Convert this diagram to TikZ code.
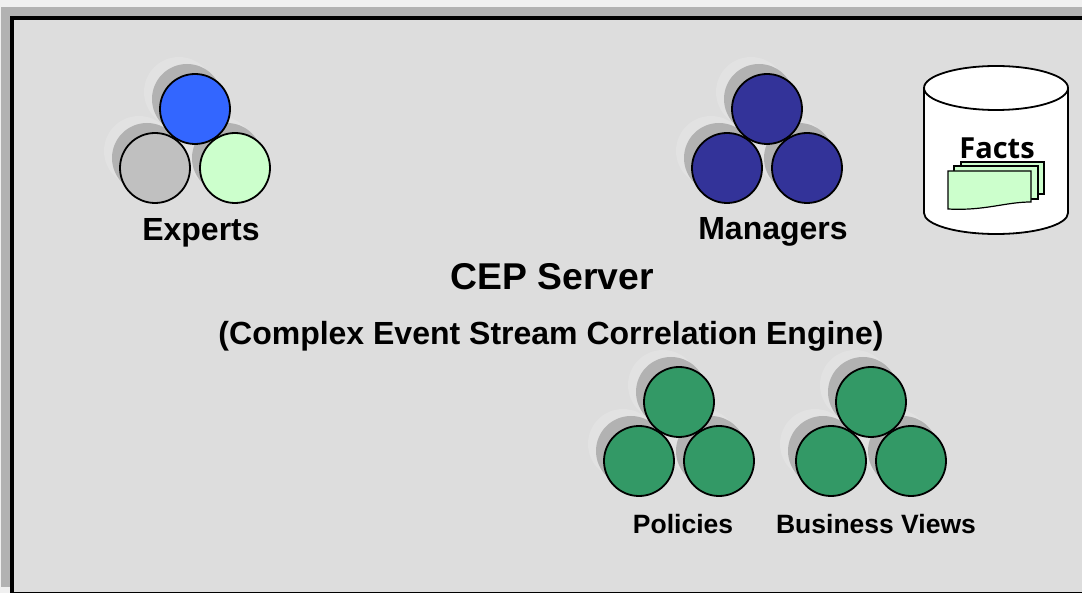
\documentclass[tikz,border=0pt]{standalone}
\usepackage{fontspec}
\usepackage{xcolor}
\setmainfont{Liberation Sans}
\newfontfamily\factsfont{Open Sans}
\usetikzlibrary{calc}
\definecolor{panelcolor}{HTML}{DDDDDD}
\definecolor{shadowcolor}{HTML}{B2B2B2}
\definecolor{glowcolor}{HTML}{E2E2E2}
\definecolor{pagecolor}{HTML}{F0F0F0}
\definecolor{bluecolor}{HTML}{3366FF}
\definecolor{greycolor}{HTML}{C0C0C0}
\definecolor{mintcolor}{HTML}{CCFFCC}
\definecolor{navycolor}{HTML}{333399}
\definecolor{greencolor}{HTML}{339966}
\tikzstyle{ball} = [
    circle,
    draw=black,
    line width=1.8pt,
    inner sep=0pt,
    minimum size=70pt
    ]
\tikzstyle{ballshadow} = [
    circle,
    fill=shadowcolor,
    inner sep=0pt,
    minimum size=70pt
    ]
\tikzstyle{ballglow} = [
    circle,
    fill=glowcolor,
    inner sep=0pt,
    minimum size=70pt
    ]
\tikzstyle{bigtitle} = [font=\bfseries\fontsize{32}{36}\selectfont]
\tikzstyle{smalltitle} = [font=\bfseries\fontsize{26.5}{30}\selectfont]
\tikzstyle{sheet} = [draw=black, fill=mintcolor, line width=1.2pt]
% name, x, y, colour
\newcommand{\ballnode}[4]{%
    \node[ball, fill=#4] (#1) at (#2,#3) {};
}
% name, x, y
\newcommand{\ballback}[3]{%
    \node[ballglow] (#1glow) at (#2-16,#3-17) {};
}
\newcommand{\ballcast}[3]{%
    \node[ballshadow] (#1shadow) at (#2-8,#3-10) {};
}
% name, x of top ball, y of top ball, three colours
\newcommand{\balltrio}[6]{%
    \ballback{#1left}{#2-40}{#3+59}
    \ballback{#1right}{#2+40}{#3+59}
    \ballback{#1top}{#2}{#3}
    \ballcast{#1left}{#2-40}{#3+59}
    \ballcast{#1right}{#2+40}{#3+59}
    \ballcast{#1top}{#2}{#3}
    \ballnode{#1left}{#2-40}{#3+59}{#5}
    \ballnode{#1right}{#2+40}{#3+59}{#6}
    \ballnode{#1top}{#2}{#3}{#4}
}
\begin{document}
\begin{tikzpicture}[x=1pt,y=-1pt]
\useasboundingbox (0,0) rectangle (1082,593);
\fill[pagecolor] (0,0) rectangle (1082,593);
\fill[shadowcolor] (1,7) rectangle (1082,587);
\draw[fill=panelcolor, line width=4pt] (12,18) rectangle (1100,593.5);

\balltrio{experts}{195}{109}{bluecolor}{greycolor}{mintcolor}
\balltrio{managers}{767}{109}{navycolor}{navycolor}{navycolor}
\balltrio{policies}{679}{402}{greencolor}{greencolor}{greencolor}
\balltrio{views}{871}{402}{greencolor}{greencolor}{greencolor}

% facts store
\draw[fill=white, line width=1.8pt] (924,88) -- (924,213) arc[start angle=180, end angle=0, x radius=72, y radius=21]
    -- (1068,88) arc[start angle=0, end angle=-180, x radius=72, y radius=22] -- cycle;
\draw[line width=1.8pt] (924,88) arc[start angle=180, end angle=0, x radius=72, y radius=22];
\node[font=\factsfont\bfseries\fontsize{29}{32}\selectfont] (factslabel) at (997,148) {Facts};
\draw[sheet] (961,162) rectangle (1044,194);
\draw[sheet] (954,166) rectangle (1038,199);
\draw[sheet] (948,171) -- (1031,171) -- (1031,202) .. controls (1005,202) and (985,211) .. (948,209) -- cycle;

\node[bigtitle] (expertslabel) at (201,233) {Experts};
\node[bigtitle] (managerslabel) at (773,232) {Managers};
\node[font=\bfseries\fontsize{37.3}{42}\selectfont] (cepserver) at (552,277) {CEP Server};
\node[bigtitle] (cepengine) at (551,336) {(Complex Event Stream Correlation Engine)};
\node[smalltitle] (policieslabel) at (683,524) {Policies};
\node[smalltitle] (viewslabel) at (876,524) {Business Views};
\end{tikzpicture}
\end{document}
